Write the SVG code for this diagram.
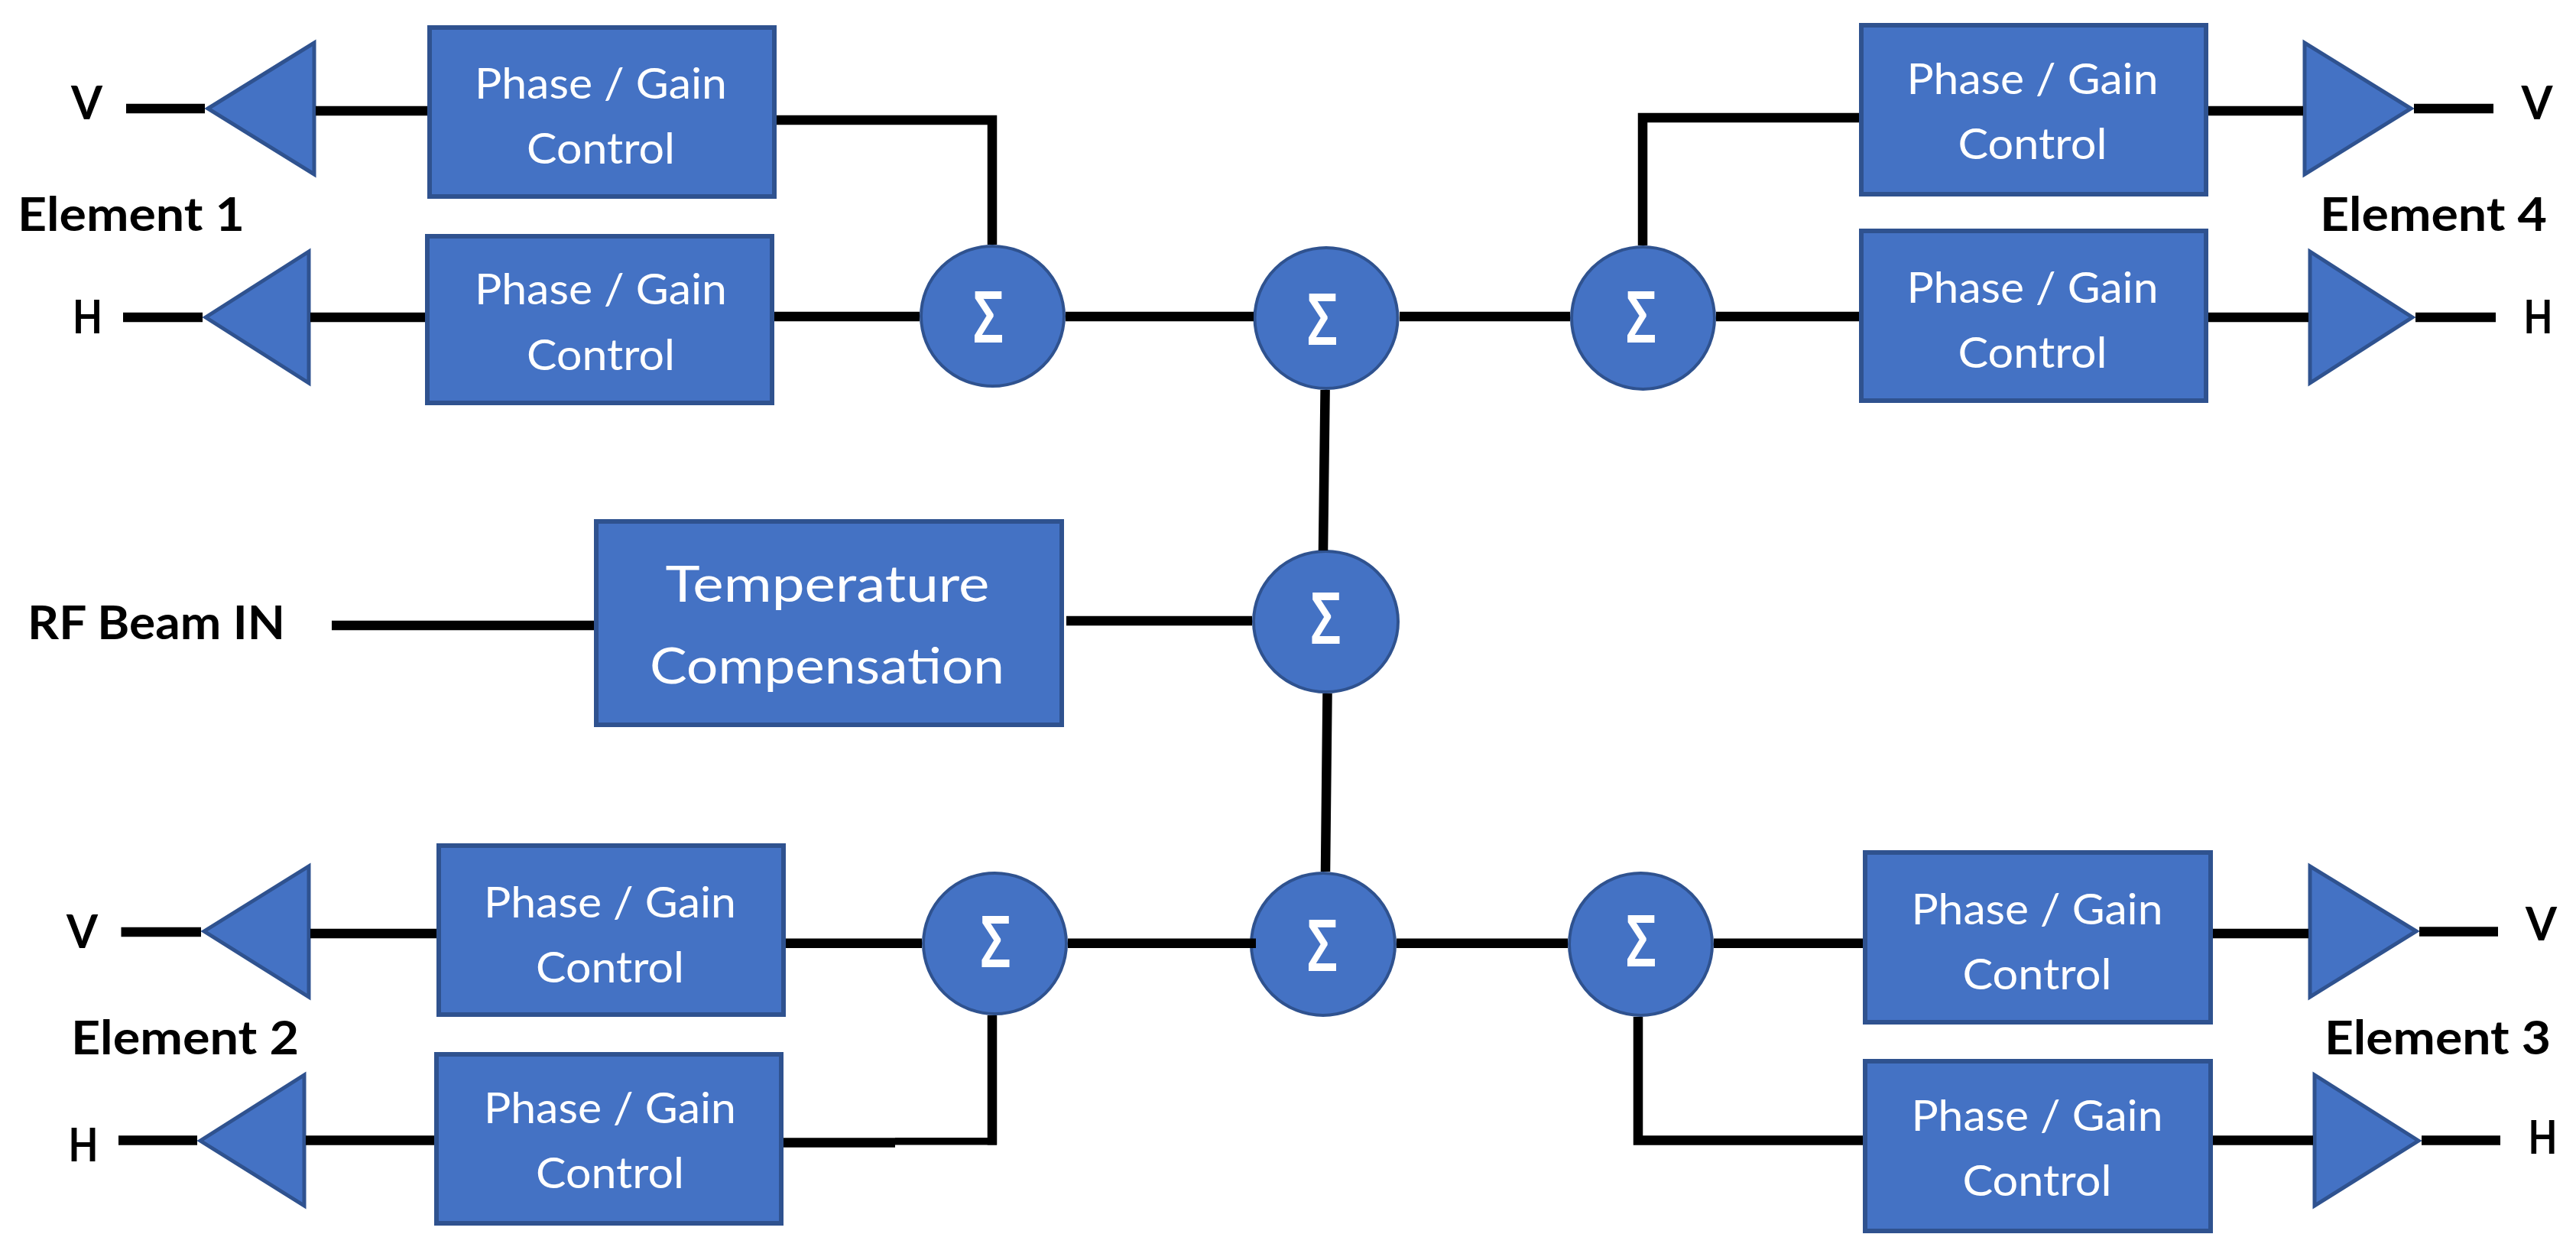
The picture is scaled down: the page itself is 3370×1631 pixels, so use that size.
<svg xmlns="http://www.w3.org/2000/svg" width="3370" height="1631" viewBox="0 0 3370 1631">
<style>
.n{fill:#4472C4;stroke:#2F528F;stroke-width:6}
.c{fill:#4472C4;stroke:#2F528F;stroke-width:4}
.t{fill:#4472C4;stroke:#2F528F;stroke-width:5;stroke-linejoin:miter}
.w{fill:#fff;font-family:Lato,"Liberation Sans",sans-serif;font-size:57px;text-anchor:middle}
.big{fill:#fff;font-family:Lato,"Liberation Sans",sans-serif;font-size:66px;text-anchor:middle}
.s{fill:#fff;font-family:"Noto Sans","Liberation Sans",sans-serif;font-size:94px;text-anchor:middle;font-weight:600}
.k{fill:#000;font-family:Lato,"Liberation Sans",sans-serif;font-size:62px;font-weight:700;text-anchor:middle}
.l{fill:none;stroke:#000;stroke-width:12.5}
</style>
<rect width="3370" height="1631" fill="#fff"/>
<g id="tri-e1v"><polygon class="t" points="272,142 411,56 411,228"/></g>
<g id="tri-e1h"><polygon class="t" points="269,415 404,329 404,501"/></g>
<g id="tri-e2v"><polygon class="t" points="267,1218 404,1133 404,1304"/></g>
<g id="tri-e2h"><polygon class="t" points="262,1492 398,1406 398,1577"/></g>
<g id="tri-e4v"><polygon class="t" points="3154,142 3015,56 3015,228"/></g>
<g id="tri-e4h"><polygon class="t" points="3156,415 3022,329 3022,501"/></g>
<g id="tri-e3v"><polygon class="t" points="3161,1218 3022,1133 3022,1304"/></g>
<g id="tri-e3h"><polygon class="t" points="3164,1492 3028,1406 3028,1577"/></g>

<g id="pg-e1v"><rect class="n" x="562" y="36" width="451" height="221"/><text class="w" x="786" y="129" textLength="330" lengthAdjust="spacingAndGlyphs">Phase / Gain</text><text class="w" x="786" y="214" textLength="194" lengthAdjust="spacingAndGlyphs">Control</text></g>
<g id="pg-e1h"><rect class="n" x="559" y="309" width="451" height="218"/><text class="w" x="786" y="398" textLength="330" lengthAdjust="spacingAndGlyphs">Phase / Gain</text><text class="w" x="786" y="484" textLength="194" lengthAdjust="spacingAndGlyphs">Control</text></g>
<g id="pg-e2v"><rect class="n" x="574" y="1106" width="451" height="221"/><text class="w" x="798" y="1199.5" textLength="330" lengthAdjust="spacingAndGlyphs">Phase / Gain</text><text class="w" x="798" y="1285" textLength="194" lengthAdjust="spacingAndGlyphs">Control</text></g>
<g id="pg-e2h"><rect class="n" x="571" y="1379" width="451" height="221"/><text class="w" x="798" y="1469" textLength="330" lengthAdjust="spacingAndGlyphs">Phase / Gain</text><text class="w" x="798" y="1554" textLength="194" lengthAdjust="spacingAndGlyphs">Control</text></g>
<g id="pg-e4v"><rect class="n" x="2435" y="33" width="451" height="221"/><text class="w" x="2659" y="123" textLength="329" lengthAdjust="spacingAndGlyphs">Phase / Gain</text><text class="w" x="2659" y="208" textLength="195" lengthAdjust="spacingAndGlyphs">Control</text></g>
<g id="pg-e4h"><rect class="n" x="2435" y="302" width="451" height="222"/><text class="w" x="2659" y="396" textLength="329" lengthAdjust="spacingAndGlyphs">Phase / Gain</text><text class="w" x="2659" y="481" textLength="195" lengthAdjust="spacingAndGlyphs">Control</text></g>
<g id="pg-e3v"><rect class="n" x="2440" y="1115" width="452" height="222"/><text class="w" x="2665" y="1209" textLength="329" lengthAdjust="spacingAndGlyphs">Phase / Gain</text><text class="w" x="2665" y="1294" textLength="195" lengthAdjust="spacingAndGlyphs">Control</text></g>
<g id="pg-e3h"><rect class="n" x="2440" y="1388" width="452" height="222"/><text class="w" x="2665" y="1479" textLength="329" lengthAdjust="spacingAndGlyphs">Phase / Gain</text><text class="w" x="2665" y="1564" textLength="195" lengthAdjust="spacingAndGlyphs">Control</text></g>
<g id="temp"><rect class="n" x="780" y="682" width="609" height="266"/><text class="big" x="1082.5" y="787" textLength="424" lengthAdjust="spacingAndGlyphs">Temperature</text><text class="big" x="1082" y="893.5" textLength="464" lengthAdjust="spacingAndGlyphs">Compensation</text></g>

<g id="sum1"><ellipse class="c" cx="1298.5" cy="413.5" rx="93.5" ry="91.5"/><text class="s" x="1293" y="448" textLength="40" lengthAdjust="spacingAndGlyphs">Σ</text></g>
<g id="sum2"><ellipse class="c" cx="1735" cy="416" rx="93.5" ry="92"/><text class="s" x="1730" y="451" textLength="40" lengthAdjust="spacingAndGlyphs">Σ</text></g>
<g id="sum3"><ellipse class="c" cx="2149.5" cy="416" rx="93.5" ry="93"/><text class="s" x="2147" y="448" textLength="40" lengthAdjust="spacingAndGlyphs">Σ</text></g>
<g id="sum4"><ellipse class="c" cx="1734.5" cy="813" rx="94.5" ry="92"/><text class="s" x="1734.5" y="842" textLength="40" lengthAdjust="spacingAndGlyphs">Σ</text></g>
<g id="sum5"><ellipse class="c" cx="1301.5" cy="1234" rx="93.5" ry="92"/><text class="s" x="1302.5" y="1264.5" textLength="40" lengthAdjust="spacingAndGlyphs">Σ</text></g>
<g id="sum6"><ellipse class="c" cx="1731" cy="1235" rx="94" ry="93"/><text class="s" x="1730" y="1270" textLength="40" lengthAdjust="spacingAndGlyphs">Σ</text></g>
<g id="sum7"><ellipse class="c" cx="2146.5" cy="1235" rx="93.5" ry="93"/><text class="s" x="2147" y="1264" textLength="40" lengthAdjust="spacingAndGlyphs">Σ</text></g>

<g id="labels">
<text class="k" x="113.5" y="156" textLength="41" lengthAdjust="spacingAndGlyphs">V</text>
<text class="k" x="114.5" y="436" textLength="39" lengthAdjust="spacingAndGlyphs">H</text>
<text class="k" x="171.5" y="302" textLength="297" lengthAdjust="spacingAndGlyphs">Element 1</text>
<text class="k" x="107.5" y="1240" textLength="41" lengthAdjust="spacingAndGlyphs">V</text>
<text class="k" x="109" y="1518.5" textLength="39" lengthAdjust="spacingAndGlyphs">H</text>
<text class="k" x="242" y="1379" textLength="298" lengthAdjust="spacingAndGlyphs">Element 2</text>
<text class="k" x="3319" y="156" textLength="41" lengthAdjust="spacingAndGlyphs">V</text>
<text class="k" x="3320.5" y="436" textLength="38" lengthAdjust="spacingAndGlyphs">H</text>
<text class="k" x="3183.5" y="302" textLength="297" lengthAdjust="spacingAndGlyphs">Element 4</text>
<text class="k" x="3324.5" y="1230" textLength="41" lengthAdjust="spacingAndGlyphs">V</text>
<text class="k" x="3326.5" y="1509" textLength="38" lengthAdjust="spacingAndGlyphs">H</text>
<text class="k" x="3189" y="1379" textLength="296" lengthAdjust="spacingAndGlyphs">Element 3</text>
<text class="k" x="204.5" y="836" textLength="337" lengthAdjust="spacingAndGlyphs">RF Beam IN</text>
</g>

<g id="connectors" class="l">
<path d="M165 142H268M413 145H559M1016 157H1298V320"/>
<path d="M161 415H265M406 415H556M1013 414H1203M1394 414H1640M1831 414H2054M2245 414H2432"/>
<path d="M2149 321V154H2432M2889 145H3013M3158 142H3262M2889 415H3020M3160 415H3265"/>
<path d="M1733.6 510L1731 720M1736.5 907L1734 1140"/>
<path d="M434 818H777M1395 812H1638"/>
<path d="M158.5 1219H263M406 1221H571M1028 1233.7H1206M1397 1233.7H1643M1827 1233.7H2051M2242 1233.7H2437M2895 1221H3020M3165 1218.5H3268"/>
<path d="M155 1491.5H258M400 1491.5H568M1025 1494.4H1171M1298 1328V1497.5"/>
<path d="M1171 1492.8H1304" style="stroke-width:9.5"/>
<path d="M2143 1330V1491.5H2437M2895 1491.5H3026M3168 1491.5H3271"/>
</g>
</svg>
